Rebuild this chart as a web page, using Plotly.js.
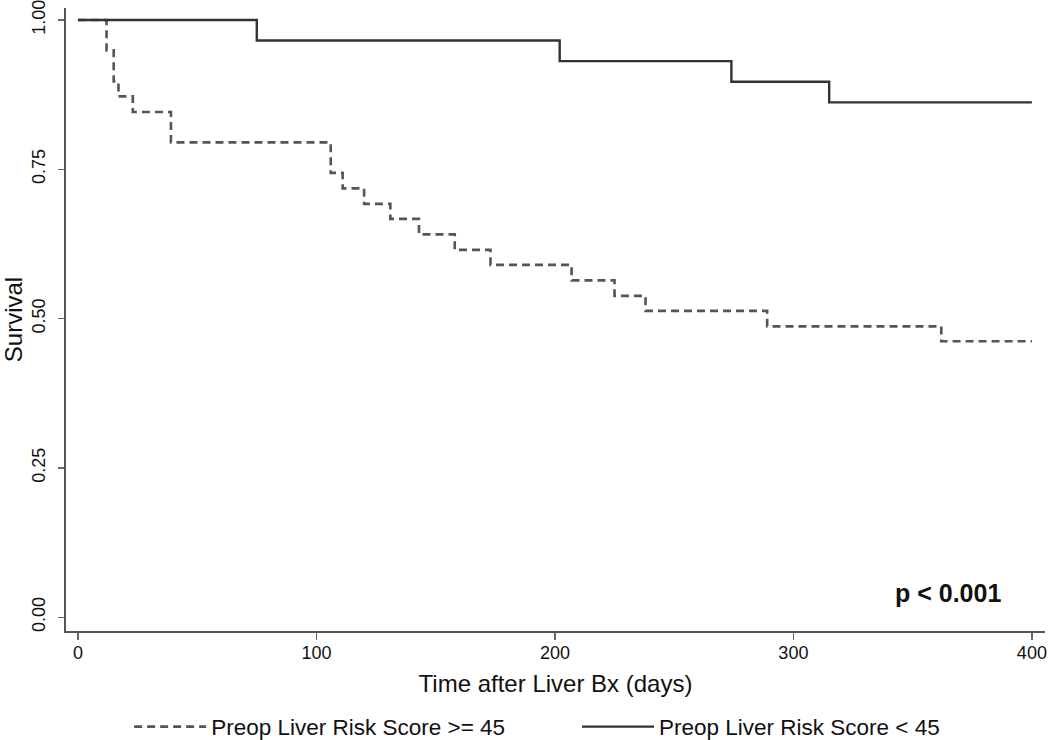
<!DOCTYPE html>
<html>
<head>
<meta charset="utf-8">
<script src="https://cdn.plot.ly/plotly-3.0.1.min.js"></script>
<style>html,body{margin:0;padding:0;background:#fff;}#chart{width:1050px;height:740px;}</style>
</head>
<body>
<div id="chart"></div>
<script>
// Kaplan-Meier step data
var highTimes = [0, 12, 15, 17, 23, 39, 106, 111, 120, 131, 143, 158, 173, 207, 225, 238, 289, 362, 400];
var highSurv  = [1.000, 0.949, 0.897, 0.872, 0.846, 0.795, 0.744, 0.718, 0.692, 0.667, 0.641, 0.615, 0.590, 0.564, 0.538, 0.513, 0.487, 0.462, 0.462];
var lowTimes = [0, 75, 202, 274, 315, 400];
var lowSurv  = [1.000, 0.9655, 0.931, 0.8966, 0.862, 0.862];
var xTicks = [0, 100, 200, 300, 400];
var yTicks = [0, 0.25, 0.5, 0.75, 1];
var yTickText = ["0.00", "0.25", "0.50", "0.75", "1.00"];
var seriesNames = ["Preop Liver Risk Score >= 45", "Preop Liver Risk Score < 45"];
var xTitle = "Time after Liver Bx (days)";
var yTitle = "Survival";
var pText = "p < 0.001";

var FONT = "Liberation Sans, Arial, Helvetica, sans-serif";

var traces = [
  {
    x: highTimes, y: highSurv, name: seriesNames[0], type: "scatter", mode: "lines",
    legend: "legend",
    line: {shape: "hv", color: "#555555", width: 2.6, dash: "8px,5px"}
  },
  {
    x: lowTimes, y: lowSurv, name: seriesNames[1], type: "scatter", mode: "lines",
    legend: "legend2",
    line: {shape: "hv", color: "#333333", width: 2.4}
  }
];

var axisCommon = {
  showgrid: false, zeroline: false, showline: true,
  linecolor: "#555555", linewidth: 2,
  ticks: "outside", tickcolor: "#666666", tickwidth: 1.5,
  ticklabeloverflow: "allow",
  tickfont: {family: FONT, size: 18, color: "#111111"}
};

var legendCommon = {
  orientation: "h", xref: "container", yref: "container",
  y: 0.0176, xanchor: "left", yanchor: "middle",
  font: {family: FONT, size: 22.5, color: "#111111"},
  itemwidth: 72, bgcolor: "rgba(0,0,0,0)"
};

var layout = {
  width: 1050, height: 740,
  paper_bgcolor: "#ffffff", plot_bgcolor: "#ffffff",
  margin: {l: 66, r: 5, t: 8, b: 109},
  font: {family: FONT, color: "#111111"},
  showlegend: true,
  legend: Object.assign({}, legendCommon, {x: 0.123}),
  legend2: Object.assign({}, legendCommon, {x: 0.5495}),
  xaxis: Object.assign({}, axisCommon, {
    range: [-5, 405.5], tickvals: xTicks, ticklen: 7, ticklabelstandoff: -3,
    title: {text: xTitle, font: {family: FONT, size: 24, color: "#111111"}, standoff: 14}
  }),
  yaxis: Object.assign({}, axisCommon, {
    range: [-0.023, 1.02], tickvals: yTicks, ticktext: yTickText, ticklen: 6,
    tickangle: -90, ticklabelstandoff: 6,
    title: {text: yTitle, font: {family: FONT, size: 24, color: "#111111"}, standoff: 8}
  }),
  annotations: [
    {text: "<b>" + pText + "</b>", x: 365, y: 0.04, xref: "x", yref: "y",
     showarrow: false, font: {family: FONT, size: 25, color: "#111111"}}
  ]
};

Plotly.newPlot("chart", traces, layout, {displayModeBar: false, staticPlot: true});
</script>
</body>
</html>
